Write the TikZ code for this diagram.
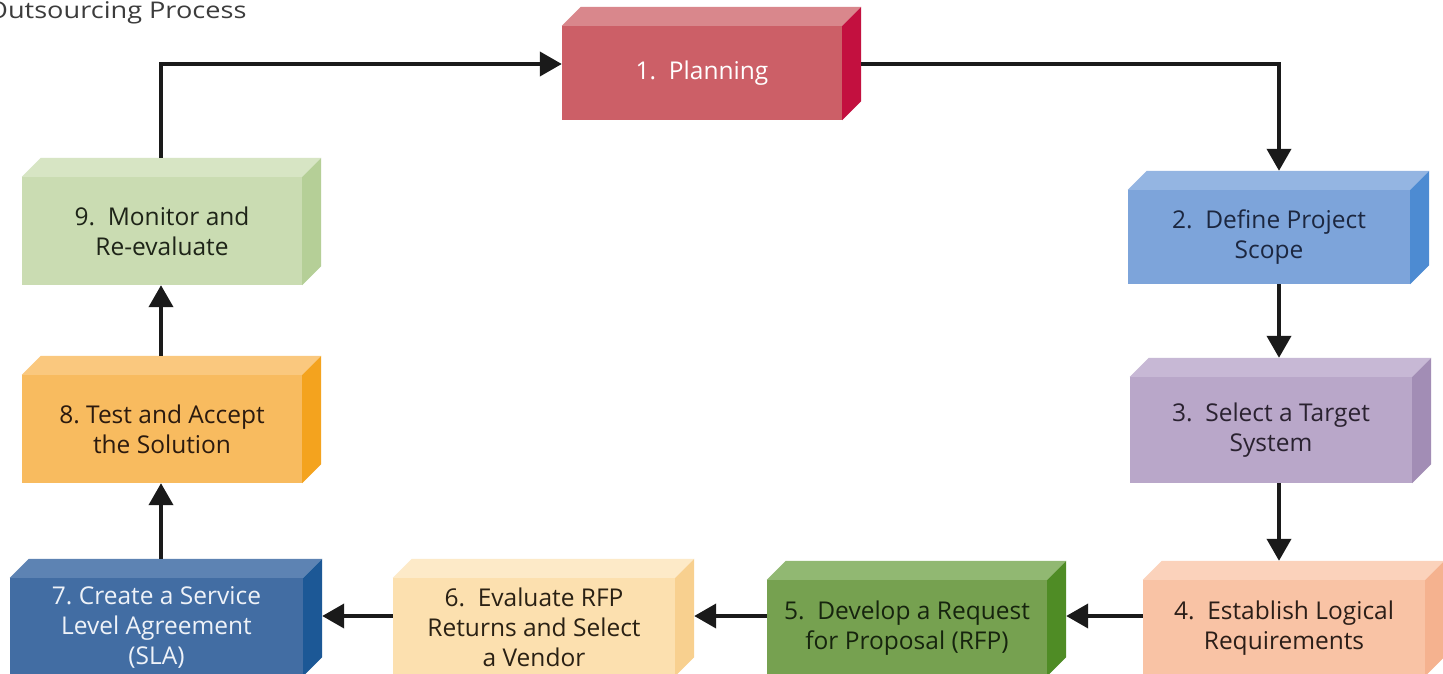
\documentclass[tikz,border=0pt]{standalone}
\usepackage{fontspec}
\setmainfont{Open Sans}
\newfontfamily\titlefont[FakeStretch=1.18]{Open Sans}
\usetikzlibrary{arrows.meta,calc}

% front / top / side / text colours of each step
\definecolor{f1}{HTML}{CC5F67}\definecolor{t1}{HTML}{D9878C}\definecolor{s1}{HTML}{C3103F}\definecolor{x1}{HTML}{FFFFFF}
\definecolor{f2}{HTML}{7DA4DA}\definecolor{t2}{HTML}{94B5E2}\definecolor{s2}{HTML}{4D8BD2}\definecolor{x2}{HTML}{1C2740}
\definecolor{f3}{HTML}{B9A7C9}\definecolor{t3}{HTML}{C7B8D5}\definecolor{s3}{HTML}{A28DB5}\definecolor{x3}{HTML}{2A2230}
\definecolor{f4}{HTML}{F9C3A5}\definecolor{t4}{HTML}{FBD2BB}\definecolor{s4}{HTML}{F5B28F}\definecolor{x4}{HTML}{2B1E18}
\definecolor{f5}{HTML}{76A150}\definecolor{t5}{HTML}{91B872}\definecolor{s5}{HTML}{4F8C25}\definecolor{x5}{HTML}{16240E}
\definecolor{f6}{HTML}{FCE0AF}\definecolor{t6}{HTML}{FDEAC8}\definecolor{s6}{HTML}{F8D08F}\definecolor{x6}{HTML}{2A2114}
\definecolor{f7}{HTML}{426DA3}\definecolor{t7}{HTML}{5D83B3}\definecolor{s7}{HTML}{1C5896}\definecolor{x7}{HTML}{EEF2F8}
\definecolor{f8}{HTML}{F8BB5F}\definecolor{t8}{HTML}{FAC87E}\definecolor{s8}{HTML}{F4A31E}\definecolor{x8}{HTML}{2B1A0F}
\definecolor{f9}{HTML}{CADCB2}\definecolor{t9}{HTML}{D7E5C4}\definecolor{s9}{HTML}{B5CF97}\definecolor{x9}{HTML}{1E2418}
\definecolor{ink}{HTML}{1A1A1A}

% top and right faces of a block, drawn around its front node
\newcommand\prismfaces[2]{%
  \fill[t#2] (#1.north west) -- ++(19,-19) -- ($(#1.north east)+(19,-19)$) -- (#1.north east) -- cycle;
  \fill[s#2] (#1.north east) -- ++(19,-19) -- ($(#1.south east)+(19,-19)$) -- (#1.south east) -- cycle;}

\begin{document}
\begin{tikzpicture}[x=1pt,y=-1pt,
  stepbox/.style={inner sep=0pt, align=center, fill=f#1, text=x#1,
    font=\fontsize{24.5}{30}\selectfont},
  arr/.style={draw=ink, line width=4pt, -{Triangle[length=22pt,width=24pt]}}]
\useasboundingbox (0,0) rectangle (1443,674);
\fill[white] (0,0) rectangle (1443,674);

\node[anchor=base east, text=ink!85, font=\titlefont\fontsize{23}{28}\selectfont] (title) at (250,19) {Outsourcing Process};

% front faces
\node[stepbox=1, minimum width=280pt, minimum height=94pt]  (b1) at (702,73)   {1.\ \ Planning};
\node[stepbox=2, minimum width=282pt, minimum height=94pt]  (b2) at (1269,237) {2.\ \ Define Project\\Scope};
\node[stepbox=3, minimum width=282pt, minimum height=106pt] (b3) at (1271,430) {3.\ \ Select a Target\\System};
\node[stepbox=4, minimum width=282pt, minimum height=96pt]  (b4) at (1284,628) {4.\ \ Establish Logical\\Requirements};
\node[stepbox=5, minimum width=280pt, minimum height=96pt]  (b5) at (907,628)  {5.\ \ Develop a Request\\for Proposal (RFP)};
\node[stepbox=6, minimum width=282pt, minimum height=98pt]  (b6) at (534,627)  {6.\ \ Evaluate RFP\\Returns and Select\\a Vendor};
\node[stepbox=7, minimum width=293pt, minimum height=98pt]  (b7) at (156.5,627) {7.\ Create a Service\\Level Agreement\\(SLA)};
\node[stepbox=8, minimum width=280pt, minimum height=108pt] (b8) at (162,429)  {8.\ Test and Accept\\the Solution};
\node[stepbox=9, minimum width=280pt, minimum height=108pt] (b9) at (162,231)  {9.\ \ Monitor and\\Re-evaluate};

\prismfaces{b1}{1}\prismfaces{b2}{2}\prismfaces{b3}{3}
\prismfaces{b4}{4}\prismfaces{b5}{5}\prismfaces{b6}{6}
\prismfaces{b7}{7}\prismfaces{b8}{8}\prismfaces{b9}{9}

% guide lines for the connectors
\coordinate (lx) at (161,0);
\coordinate (rx) at (1279,0);
\coordinate (ty) at (0,64);
\coordinate (my) at (0,616);

\draw[arr] ($(lx |- b9.north)+(0,-19)$) |- (b1.west |- ty);
\draw[arr] ($(b1.east |- ty)+(19,0)$) -| ($(rx |- b2.north)+(0,-19)$);
\draw[arr] (rx |- b2.south) -- ($(rx |- b3.north)+(0,-19)$);
\draw[arr] (rx |- b3.south) -- ($(rx |- b4.north)+(0,-19)$);
\draw[arr] (b4.west |- my) -- ($(b5.east |- my)+(19,0)$);
\draw[arr] (b5.west |- my) -- ($(b6.east |- my)+(19,0)$);
\draw[arr] (b6.west |- my) -- ($(b7.east |- my)+(19,0)$);
\draw[arr] ($(lx |- b7.north)+(0,-19)$) -- (lx |- b8.south);
\draw[arr] ($(lx |- b8.north)+(0,-19)$) -- (lx |- b9.south);
\end{tikzpicture}
\end{document}
